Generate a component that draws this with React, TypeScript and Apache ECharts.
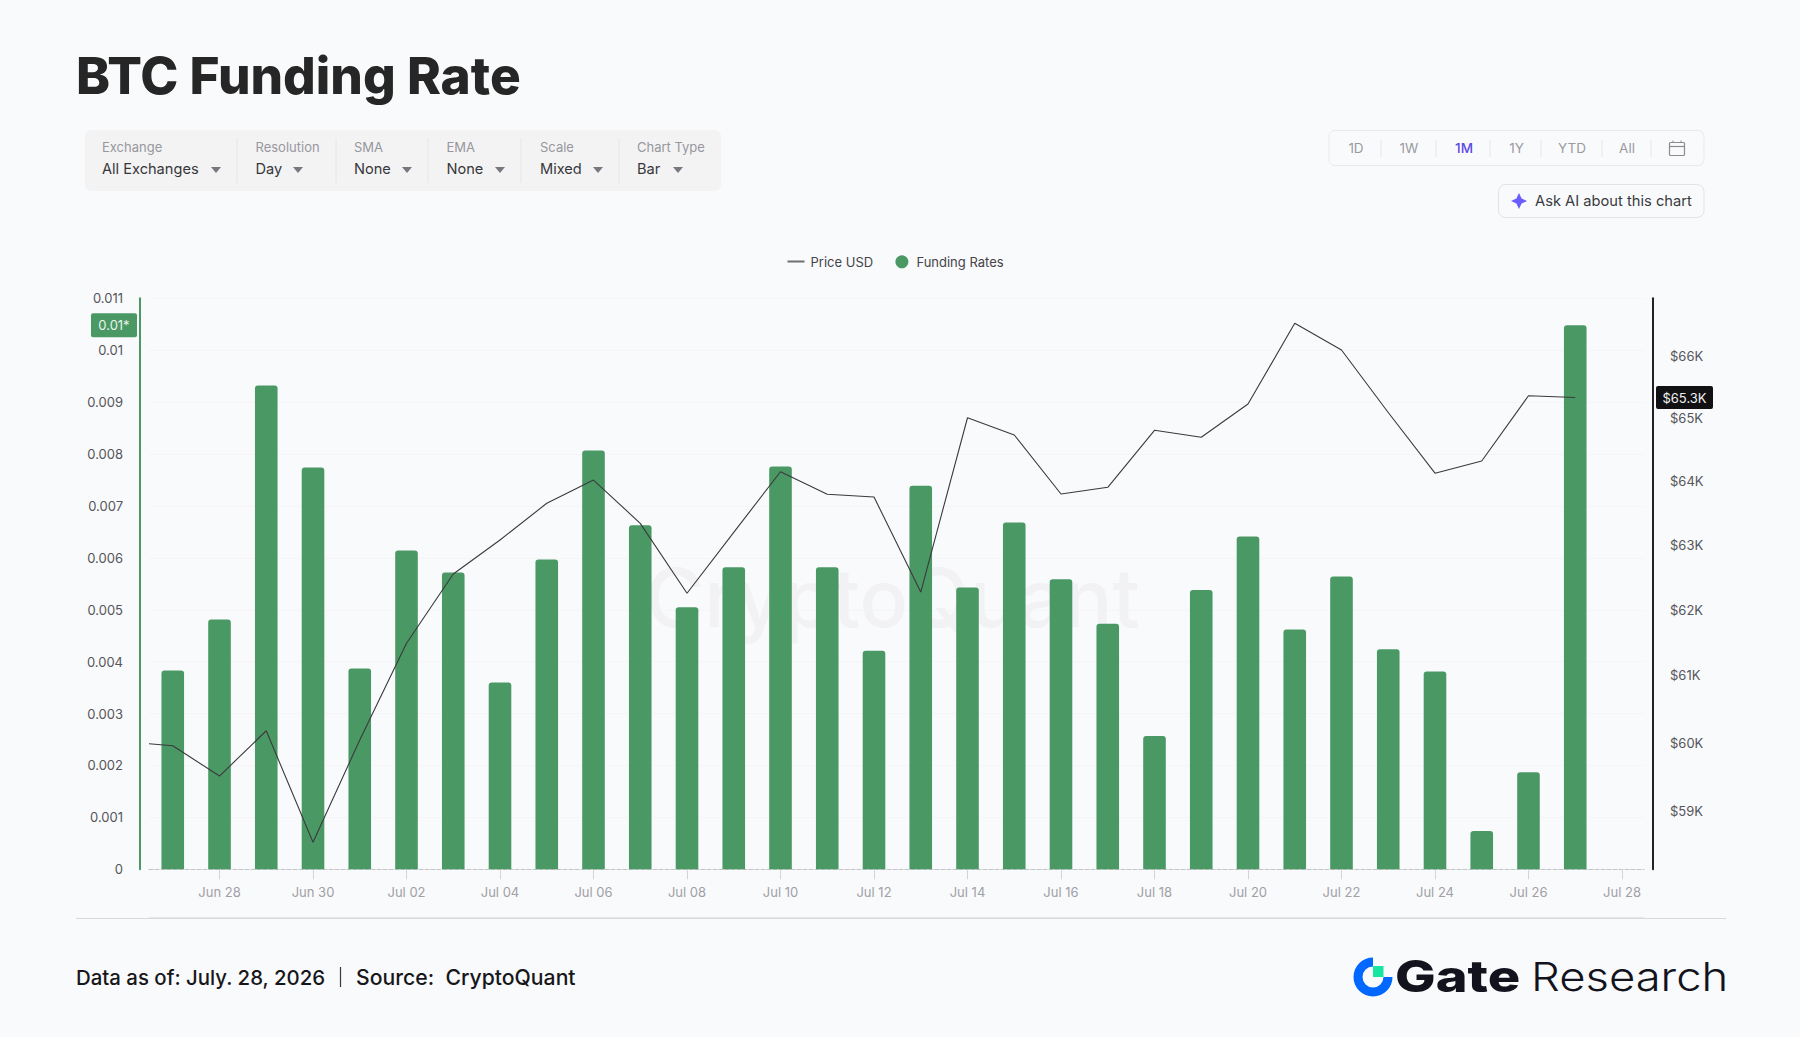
import React, { useEffect, useRef } from "react";
import * as echarts from "echarts";

const barDates = [
  "2026-06-27","2026-06-28","2026-06-29","2026-06-30","2026-07-01","2026-07-02","2026-07-03","2026-07-04",
  "2026-07-05","2026-07-06","2026-07-07","2026-07-08","2026-07-09","2026-07-10","2026-07-11","2026-07-12",
  "2026-07-13","2026-07-14","2026-07-15","2026-07-16","2026-07-17","2026-07-18","2026-07-19","2026-07-20",
  "2026-07-21","2026-07-22","2026-07-23","2026-07-24","2026-07-25","2026-07-26","2026-07-27",
];
const fundingRates = [
  0.00383,0.00481,0.00932,0.00774,0.00387,0.00614,0.00572,0.0036,
  0.00597,0.00807,0.00663,0.00505,0.00582,0.00776,0.00582,0.00421,
  0.00739,0.00543,0.00668,0.00559,0.00473,0.00257,0.00538,0.00641,
  0.00462,0.00564,0.00424,0.00381,0.00074,0.00187,0.01048,
];
const priceFirstDate = "2026-06-26T11:48:00Z";
const priceFirstValue = 59982;
const priceUsd = [
  59952,59506,60174,58541,60037,61486,62545,63072,
  63646,64012,63332,62249,63192,64143,63787,63745,
  62268,65003,64727,63792,63897,64802,64690,65223,
  66534,66098,65087,64120,64313,65357,65328,
];
const xTickDates = [
  "2026-06-28","2026-06-30","2026-07-02","2026-07-04","2026-07-06","2026-07-08","2026-07-10","2026-07-12",
  "2026-07-14","2026-07-16","2026-07-18","2026-07-20","2026-07-22","2026-07-24","2026-07-26","2026-07-28",
];
const xTickLabels = [
  "Jun 28","Jun 30","Jul 02","Jul 04","Jul 06","Jul 08","Jul 10","Jul 12",
  "Jul 14","Jul 16","Jul 18","Jul 20","Jul 22","Jul 24","Jul 26","Jul 28",
];
const priceTicks = [59000,60000,61000,62000,63000,64000,65000,66000];
const filters = [
  { label: "Exchange", value: "All Exchanges" },
  { label: "Resolution", value: "Day" },
  { label: "SMA", value: "None" },
  { label: "EMA", value: "None" },
  { label: "Scale", value: "Mixed" },
  { label: "Chart Type", value: "Bar" },
];
const filterX = [102, 255.5, 354, 446.5, 540, 637];
const filterArrowX = [216, 298, 407, 500, 598, 678];
const filterSepX = [237, 336, 428, 521, 619];
const ranges = ["1D","1W","1M","1Y","YTD","All"];
const rangeX = [1356, 1409, 1464, 1516.5, 1572, 1627];
const rangeSepX = [1381, 1436, 1490, 1541, 1602, 1651];

const FONT = "Inter, sans-serif";
const GREEN = "#4a9964";
const BG = "#f9fafc";
const ts = (d: string) => new Date(d.length > 10 ? d : d + "T00:00:00Z").getTime();

function staticGraphics(): any[] {
  const g: any[] = [];
  const text = (t: string, x: number, y: number, font: string, fill: string, align = "left", z = 5) =>
    g.push({ type: "text", z, silent: true, style: { text: t, x, y, font: `${font} ${FONT}`, fill, textAlign: align, textVerticalAlign: "middle" } });
  const stretched = (t: string, x: number, y: number, font: string, fill: string, scaleX: number) =>
    g.push({ type: "text", z: 5, silent: true, x, y, scaleX, style: { text: t, x: 0, y: 0, font: `${font} ${FONT}`, fill, textAlign: "left", textVerticalAlign: "middle" } });
  const line = (x1: number, y1: number, x2: number, y2: number, stroke: string, lineWidth = 1) =>
    g.push({ type: "line", z: 5, silent: true, shape: { x1, y1, x2, y2 }, style: { stroke, lineWidth } });

  text("BTC Funding Rate", 76, 75, "800 51.3px", "#262626");
  // filter bar
  g.push({ type: "rect", z: 1, silent: true, shape: { x: 85, y: 130, width: 636, height: 61, r: 6 }, style: { fill: "#f3f3f4" } });
  filters.forEach((f, i) => {
    text(f.label, filterX[i], 147, "400 13px", "#97979d");
    text(f.value, filterX[i], 169, "400 14.6px", "#37373b");
    const ax = filterArrowX[i];
    g.push({ type: "polygon", z: 5, silent: true, shape: { points: [[ax - 5, 167], [ax + 5, 167], [ax, 173]] }, style: { fill: "#77777d" } });
  });
  filterSepX.forEach((x) => line(x, 138, x, 183, "#e6e6e8"));
  // range selector
  g.push({ type: "rect", z: 1, silent: true, shape: { x: 1329, y: 130.5, width: 375, height: 35, r: 6 }, style: { fill: BG, stroke: "#e8e9ee", lineWidth: 1 } });
  ranges.forEach((r, i) => {
    text(r, rangeX[i], 148, r === "1M" ? "500 13.5px" : "400 13.5px", r === "1M" ? "#5b49e6" : "#9a9aa0", "center");
  });
  rangeSepX.forEach((x) => line(x, 140, x, 157, "#e6e6ea"));
  g.push({ type: "rect", z: 5, silent: true, shape: { x: 1669.5, y: 142.5, width: 15, height: 13, r: 1 }, style: { fill: "none", stroke: "#8b8b91", lineWidth: 1.2 } });
  line(1669.5, 146.5, 1684.5, 146.5, "#8b8b91", 1.2);
  line(1673, 140.5, 1673, 143, "#8b8b91", 1);
  line(1681, 140.5, 1681, 143, "#8b8b91", 1);
  // ask AI
  g.push({ type: "rect", z: 1, silent: true, shape: { x: 1498.5, y: 184.5, width: 205.5, height: 33, r: 7 }, style: { fill: BG, stroke: "#e2e3e8", lineWidth: 1 } });
  g.push({ type: "polygon", z: 5, silent: true, shape: { points: [[1519, 193], [1521.6, 198.4], [1527, 201], [1521.6, 203.6], [1519, 209], [1516.4, 203.6], [1511, 201], [1516.4, 198.4]] }, style: { fill: "#6a5cff" } });
  text("Ask AI about this chart", 1535, 201, "400 14.7px", "#3a3a3e");
  // watermark
  text("CryptoQuant", 892.6, 597, "500 80.5px", "#f2f2f5", "center", 0);
  // footer
  line(76, 918.5, 1726, 918.5, "#d9d9dc", 1);
  line(149, 917.5, 1644, 917.5, "#e8e8ea", 1);
  text("Data as of: July. 28, 2026", 76, 977, "500 20.4px", "#17171a");
  line(340.5, 967, 340.5, 987, "#3a3a3e", 1.2);
  text("Source:  CryptoQuant", 356, 977, "500 21.2px", "#17171a");
  // logo
  g.push({ type: "sector", z: 5, silent: true, shape: { cx: 1373, cy: 977, r0: 10.5, r: 19.5, startAngle: 0, endAngle: Math.PI * 1.5, clockwise: true }, style: { fill: "#0068ff" } });
  g.push({ type: "rect", z: 6, silent: true, shape: { x: 1373, y: 966, width: 10.5, height: 11 }, style: { fill: "#17e6a1" } });
  stretched("Gate", 1395, 976, "800 44px", "#12131c", 1.23);
  stretched("Research", 1531, 977, "300 40px", "#12131c", 1.135);
  return g;
}

export default function App() {
  const ref = useRef<HTMLDivElement>(null);
  useEffect(() => {
    document.body.style.margin = "0";
    document.body.style.background = BG;
    const chart = echarts.init(ref.current!, undefined, { renderer: "svg" });
    const xTimes = xTickDates.map(ts);
    chart.setOption({
      animation: false,
      backgroundColor: BG,
      grid: { left: 149, top: 298.3, width: 1495, height: 571 },
      legend: [
        { data: ["Price USD"], left: 782.5, top: 250, icon: "rect", itemWidth: 17, itemHeight: 2, itemGap: 0,
          textStyle: { fontFamily: FONT, fontSize: 13, color: "#444448", padding: [0, 0, 0, 1] } },
        { data: ["Funding Rates"], left: 890.4, top: 250.3, icon: "circle", itemWidth: 13, itemHeight: 13, itemGap: 0,
          textStyle: { fontFamily: FONT, fontSize: 13, color: "#444448", padding: [0, 0, 0, 3] } },
      ],
      xAxis: {
        type: "value",
        scale: true,
        min: ts("2026-06-26T11:48:00Z"),
        max: ts("2026-07-28T11:18:00Z"),
        axisLine: { show: true, onZero: false, lineStyle: { color: "#c4c4c8", type: "dashed", width: 1 } },
        axisTick: { show: true, length: 10, customValues: xTimes, lineStyle: { color: "#d4d4d8" } },
        splitLine: { show: false },
        axisLabel: {
          customValues: xTimes,
          margin: 16,
          fontFamily: FONT, fontSize: 13, color: "#a0a0a5",
          formatter: (v: number) => xTickLabels[xTimes.indexOf(v)] ?? "",
        },
      },
      yAxis: [
        {
          type: "value", min: 0, max: 0.011, interval: 0.001, offset: 9,
          axisLine: { show: true, onZero: false, lineStyle: { color: GREEN, width: 2 } },
          axisTick: { show: false },
          splitLine: { show: true, lineStyle: { color: "#f5f5f8" } },
          axisLabel: { margin: 17, padding: [0, 0, 2, 0], fontFamily: FONT, fontSize: 13, color: "#55555a", formatter: (v: number) => String(+v.toFixed(3)) },
        },
        {
          type: "log", position: "right", logBase: 10, min: 58153, max: 66946, offset: 9,
          axisLine: { show: true, onZero: false, lineStyle: { color: "#222226", width: 2 } },
          axisTick: { show: false },
          splitLine: { show: false },
          axisLabel: {
            customValues: priceTicks, margin: 17, padding: [0, 0, 1, 0], fontFamily: FONT, fontSize: 13, color: "#55555a",
            formatter: (v: number) => `$${Math.round(v / 1000)}K`,
          },
        },
      ],
      series: [
        {
          name: "Funding Rates", type: "bar", yAxisIndex: 0, z: 2, barWidth: 22.6,
          itemStyle: { color: GREEN, borderRadius: [3, 3, 0, 0] },
          data: barDates.map((d, i) => [ts(d), fundingRates[i]]),
        },
        {
          name: "Price USD", type: "line", yAxisIndex: 1, z: 3, symbol: "none",
          itemStyle: { color: "#6f6f73" },
          lineStyle: { color: "#3a3a3e", width: 1.1 },
          data: [[ts(priceFirstDate), priceFirstValue], ...barDates.map((d, i) => [ts(d), priceUsd[i]])],
        },
      ],
      graphic: { elements: staticGraphics() },
    });

    const lastRate = fundingRates[fundingRates.length - 1];
    const lastPrice = priceUsd[priceUsd.length - 1];
    const yRate = chart.convertToPixel({ yAxisIndex: 0 }, lastRate) as number;
    const yPrice = chart.convertToPixel({ yAxisIndex: 1 }, lastPrice) as number;
    const extra: any[] = [
      { type: "rect", z: 8, silent: true, shape: { x: 91, y: yRate - 12, width: 46, height: 24, r: 2 }, style: { fill: GREEN } },
      { type: "text", z: 9, silent: true, style: { text: `${lastRate.toFixed(2)}*`, x: 114, y: yRate, font: `400 13px ${FONT}`, fill: "#e9f3ec", textAlign: "center", textVerticalAlign: "middle" } },
      { type: "rect", z: 8, silent: true, shape: { x: 1656, y: yPrice - 11.5, width: 57, height: 23, r: 2 }, style: { fill: "#111114" } },
      { type: "text", z: 9, silent: true, style: { text: `$${(lastPrice / 1000).toFixed(1)}K`, x: 1684.5, y: yPrice, font: `400 13px ${FONT}`, fill: "#f0f0f0", textAlign: "center", textVerticalAlign: "middle" } },
    ];
    chart.setOption({ graphic: { elements: [...staticGraphics(), ...extra] } }, { replaceMerge: ["graphic"] });
    return () => chart.dispose();
  }, []);
  return <div ref={ref} style={{ position: "fixed", left: 0, top: 0, width: 1800, height: 1037 }} />;
}
